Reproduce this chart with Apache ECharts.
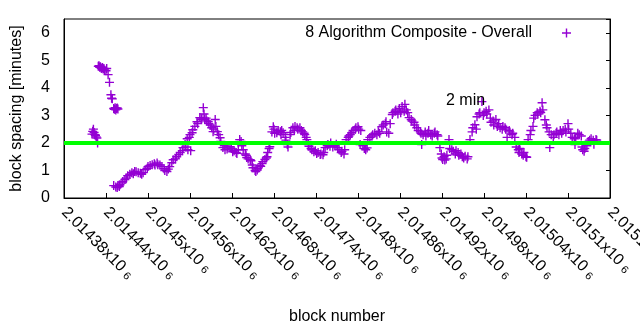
<!DOCTYPE html>
<html>
<head>
<meta charset="utf-8">
<script src="https://cdn.jsdelivr.net/npm/echarts@6/dist/echarts.min.js"></script>
<style>html,body{margin:0;padding:0;background:#fff}#c{width:640px;height:330px}</style>
</head>
<body>
<div id="c"></div>
<script>
const seriesName = '8 Algorithm Composite - Overall';
const xTickMin = 2014380, xTickMax = 2015160, xTickStep = 60;
const yTickLabels = ['0','1','2','3','4','5','6'];
const targetMinutes = 2;
const targetLabel = '2 min';

const earlyPoints = [[2014420,2.32],[2014421,2.42],[2014422,2.5],[2014423,2.38],[2014424,2.3],[2014425,2.28],[2014426,2.22],[2014427,2.18],[2014428,2.0]];
const highPoints = [[2014429,4.78],[2014430,4.8],[2014431,4.75],[2014432,4.77],[2014433,4.72],[2014434,4.7],[2014435,4.74],[2014436,4.68],[2014437,4.7],[2014438,4.65],[2014440,4.62],[2014441,4.7],[2014443,4.48],[2014445,4.2],[2014447,3.75],[2014448,3.62],[2014449,3.6],[2014451,3.25],[2014452,3.22],[2014453,3.28],[2014454,3.2],[2014455,3.25],[2014456,3.27],[2014457,3.23]];
const mainPoints = [[2014451,0.45],[2014454,0.4],[2014456,0.38],[2014457,0.45],[2014459,0.42],[2014460,0.48],[2014463,0.55],[2014464,0.6],[2014467,0.67],[2014469,0.72],[2014471,0.81],[2014474,0.86],[2014477,0.92],[2014479,0.88],[2014481,0.96],[2014483,0.95],[2014486,0.92],[2014489,0.9],[2014491,0.86],[2014493,0.92],[2014496,1.03],[2014499,1.08],[2014500,1.14],[2014503,1.18],[2014506,1.21],[2014509,1.24],[2014510,1.2],[2014513,1.27],[2014514,1.21],[2014517,1.2],[2014520,1.14],[2014523,1.06],[2014524,1.0],[2014527,0.96],[2014529,1.05],[2014531,1.14],[2014534,1.28],[2014536,1.39],[2014539,1.42],[2014541,1.5],[2014544,1.58],[2014546,1.65],[2014549,1.72],[2014550,1.83],[2014553,1.94],[2014554,1.85],[2014556,2.15],[2014557,1.75],[2014559,2.2],[2014560,2.3],[2014561,1.72],[2014563,2.37],[2014564,2.48],[2014567,2.6],[2014570,2.77],[2014571,2.7],[2014574,2.92],[2014576,2.85],[2014577,2.9],[2014579,3.28],[2014580,3.05],[2014581,2.85],[2014583,2.9],[2014584,2.8],[2014586,2.77],[2014587,2.7],[2014589,2.65],[2014591,2.55],[2014593,2.41],[2014594,2.5],[2014596,2.85],[2014597,2.6],[2014599,2.41],[2014601,2.3],[2014603,2.19],[2014604,2.05],[2014607,1.83],[2014609,1.9],[2014610,1.75],[2014613,1.78],[2014614,1.85],[2014617,1.86],[2014619,1.8],[2014621,1.68],[2014623,1.72],[2014626,1.65],[2014627,1.62],[2014629,1.75],[2014631,2.12],[2014633,2.05],[2014634,1.9],[2014636,1.75],[2014639,1.6],[2014640,1.55],[2014641,1.47],[2014643,1.42],[2014646,1.39],[2014647,1.35],[2014649,1.2],[2014650,1.1],[2014653,1.0],[2014654,0.96],[2014656,1.02],[2014657,1.08],[2014660,1.17],[2014661,1.15],[2014663,1.25],[2014664,1.32],[2014667,1.4],[2014669,1.45],[2014670,1.5],[2014671,1.65],[2014673,1.8],[2014674,1.86],[2014677,2.4],[2014679,2.59],[2014680,2.5],[2014681,2.35],[2014684,2.37],[2014686,2.45],[2014689,2.41],[2014690,2.3],[2014691,2.45],[2014693,2.37],[2014696,2.2],[2014697,2.1],[2014699,1.94],[2014700,1.85],[2014703,2.3],[2014704,2.38],[2014707,2.55],[2014709,2.45],[2014710,2.6],[2014713,2.55],[2014714,2.5],[2014717,2.55],[2014719,2.45],[2014721,2.4],[2014723,2.35],[2014724,2.3],[2014726,2.2],[2014727,2.12],[2014729,1.94],[2014730,1.88],[2014733,1.8],[2014734,1.75],[2014737,1.68],[2014739,1.72],[2014741,1.62],[2014743,1.65],[2014746,1.58],[2014747,1.6],[2014750,1.57],[2014751,1.65],[2014753,1.83],[2014756,1.9],[2014757,1.94],[2014760,1.88],[2014761,2.0],[2014764,1.85],[2014767,1.9],[2014769,1.95],[2014771,1.83],[2014773,1.75],[2014776,1.65],[2014777,1.7],[2014780,1.6],[2014781,1.75],[2014783,2.12],[2014786,2.2],[2014787,2.25],[2014789,2.3],[2014791,2.37],[2014793,2.45],[2014796,2.5],[2014797,2.55],[2014800,2.59],[2014801,2.5],[2014803,1.94],[2014804,2.45],[2014807,1.9],[2014809,1.8],[2014811,1.75],[2014813,1.82],[2014814,2.12],[2014817,2.2],[2014820,2.25],[2014821,2.3],[2014824,2.35],[2014827,2.3],[2014829,2.41],[2014831,2.35],[2014834,2.59],[2014836,2.65],[2014839,2.7],[2014840,2.77],[2014841,2.4],[2014844,2.35],[2014846,2.7],[2014849,3.03],[2014850,3.1],[2014853,3.15],[2014854,3.2],[2014857,3.05],[2014859,3.25],[2014861,3.1],[2014863,3.32],[2014866,3.15],[2014867,3.4],[2014869,3.2],[2014871,3.1],[2014873,2.92],[2014876,2.85],[2014877,2.8],[2014880,2.75],[2014881,2.65],[2014884,2.55],[2014886,2.45],[2014889,2.4],[2014890,2.35],[2014891,1.94],[2014893,2.3],[2014896,2.4],[2014897,2.25],[2014900,2.35],[2014901,2.45],[2014904,2.3],[2014906,2.25],[2014909,2.35],[2014910,2.4],[2014913,2.3],[2014914,2.25],[2014917,1.83],[2014919,1.6],[2014920,1.45],[2014921,1.4],[2014923,1.5],[2014924,1.38],[2014926,1.42],[2014927,1.55],[2014930,2.12],[2014931,1.8],[2014934,1.75],[2014936,1.7],[2014939,1.6],[2014940,1.72],[2014943,1.65],[2014944,1.55],[2014947,1.6],[2014949,1.5],[2014951,1.45],[2014953,1.52],[2014956,1.42],[2014957,1.5],[2014960,2.12],[2014963,2.4],[2014964,2.55],[2014967,2.66],[2014969,2.5],[2014970,2.95],[2014973,3.05],[2014974,3.1],[2014977,3.5],[2014979,3.0],[2014980,3.1],[2014983,3.15],[2014984,3.05],[2014987,3.2],[2014989,2.9],[2014990,2.75],[2014993,2.8],[2014994,2.65],[2014997,2.85],[2014999,2.6],[2015001,2.7],[2015003,2.55],[2015006,2.5],[2015007,2.6],[2015010,2.55],[2015011,2.5],[2015013,2.2],[2015016,2.45],[2015017,2.4],[2015020,2.3],[2015021,2.35],[2015024,2.2],[2015026,1.85],[2015029,1.75],[2015030,1.65],[2015031,1.8],[2015034,1.6],[2015036,1.55],[2015037,1.65],[2015040,1.5],[2015041,1.48],[2015043,2.12],[2015046,2.3],[2015047,2.45],[2015050,2.6],[2015051,2.9],[2015053,3.0],[2015056,3.1],[2015057,3.05],[2015060,3.15],[2015061,3.1],[2015063,3.46],[2015064,3.2],[2015067,2.84],[2015069,2.65],[2015070,2.55],[2015073,2.4],[2015074,1.83],[2015076,2.3],[2015079,2.2],[2015080,2.3],[2015083,2.35],[2015084,2.4],[2015087,2.3],[2015089,2.45],[2015091,2.35],[2015093,2.45],[2015096,2.5],[2015097,2.4],[2015100,2.7],[2015101,2.5],[2015104,2.35],[2015106,2.2],[2015109,2.15],[2015110,1.94],[2015111,2.2],[2015114,2.35],[2015116,2.3],[2015119,2.25],[2015120,1.85],[2015121,1.75],[2015123,1.7],[2015124,1.8],[2015127,1.9],[2015129,2.05],[2015131,2.1],[2015133,2.15],[2015136,2.1],[2015137,1.95],[2015140,2.12],[2015141,2.1]];

const refLine = [[xTickMin, targetMinutes], [xTickMax, targetMinutes]];

const FONT = 'Liberation Sans, Arial, sans-serif';
const PLUS = 'path://M3.8,0h1.4v3.8h3.8v1.4h-3.8v3.8h-1.4v-3.8h-3.8v-1.4h3.8z';
const PURPLE = '#9400d3';

const chart = echarts.init(document.getElementById('c'), null, {renderer: 'canvas'});
chart.setOption({
  animation: false,
  backgroundColor: '#fff',
  textStyle: {fontFamily: FONT},
  grid: {left: 64, top: 19, width: 546, height: 179, containLabel: false, outerBoundsMode: 'none',
    show: true, borderColor: '#000', borderWidth: 1, backgroundColor: 'transparent'},
  legend: {
    data: [{name: seriesName, icon: PLUS}],
    right: 64, top: 20, align: 'right', itemWidth: 9, itemHeight: 9,
    textStyle: {fontFamily: FONT, fontSize: 16, color: '#000', padding: [0, 25, 0, 0]}
  },
  xAxis: {
    type: 'value', min: xTickMin, max: xTickMax, interval: xTickStep,
    name: 'block number', nameLocation: 'middle', nameGap: 111,
    nameTextStyle: {fontFamily: FONT, fontSize: 16, color: '#000'},
    axisLine: {show: true, lineStyle: {color: '#000', width: 1}},
    axisTick: {show: true, inside: true, length: 5, lineStyle: {color: '#000'}},
    splitLine: {show: false},
    axisLabel: {
      rotate: -45, margin: 12, color: '#000', fontFamily: FONT, fontSize: 16,
      formatter: function (v) { return '{a|' + (v / 1e6) + 'x10 }{s|6}'; },
      rich: {a: {fontFamily: FONT, fontSize: 16, color: '#000'}, s: {fontFamily: FONT, fontSize: 11, color: '#000', verticalAlign: 'bottom'}}
    }
  },
  yAxis: [{
    type: 'value', min: 0, max: 6.5, interval: 1,
    name: 'block spacing [minutes]', nameLocation: 'middle', nameGap: 39, nameRotate: 90,
    nameTextStyle: {fontFamily: FONT, fontSize: 16, color: '#000'},
    axisLine: {show: true, lineStyle: {color: '#000'}},
    axisTick: {show: false},
    splitLine: {show: false},
    axisLabel: {margin: 14, color: '#000', fontFamily: FONT, fontSize: 16,
      formatter: function (v) { return Number.isInteger(v) ? yTickLabels[v] : ''; }}
  }, {
    type: 'value', min: 0, max: 6.5, interval: 1, position: 'right',
    axisLine: {show: true, lineStyle: {color: '#000'}},
    axisTick: {show: true, inside: true, length: 4, lineStyle: {color: '#000'}},
    axisLabel: {show: false}, splitLine: {show: false}
  }],
  graphic: [{
    type: 'text', left: 446, top: 93, z: 10,
    style: {text: targetLabel, font: '16px ' + FONT, fill: '#000'}
  }],
  series: [{
    name: seriesName, type: 'scatter', symbol: PLUS, symbolSize: 9,
    itemStyle: {color: PURPLE, opacity: 1},
    data: earlyPoints.concat(highPoints, mainPoints), z: 2
  }, {
    name: 'target', type: 'line', data: refLine, showSymbol: false, symbol: 'none',
    lineStyle: {color: '#00ff00', width: 4}, z: 3, silent: true
  }]
});
</script>
</body>
</html>
